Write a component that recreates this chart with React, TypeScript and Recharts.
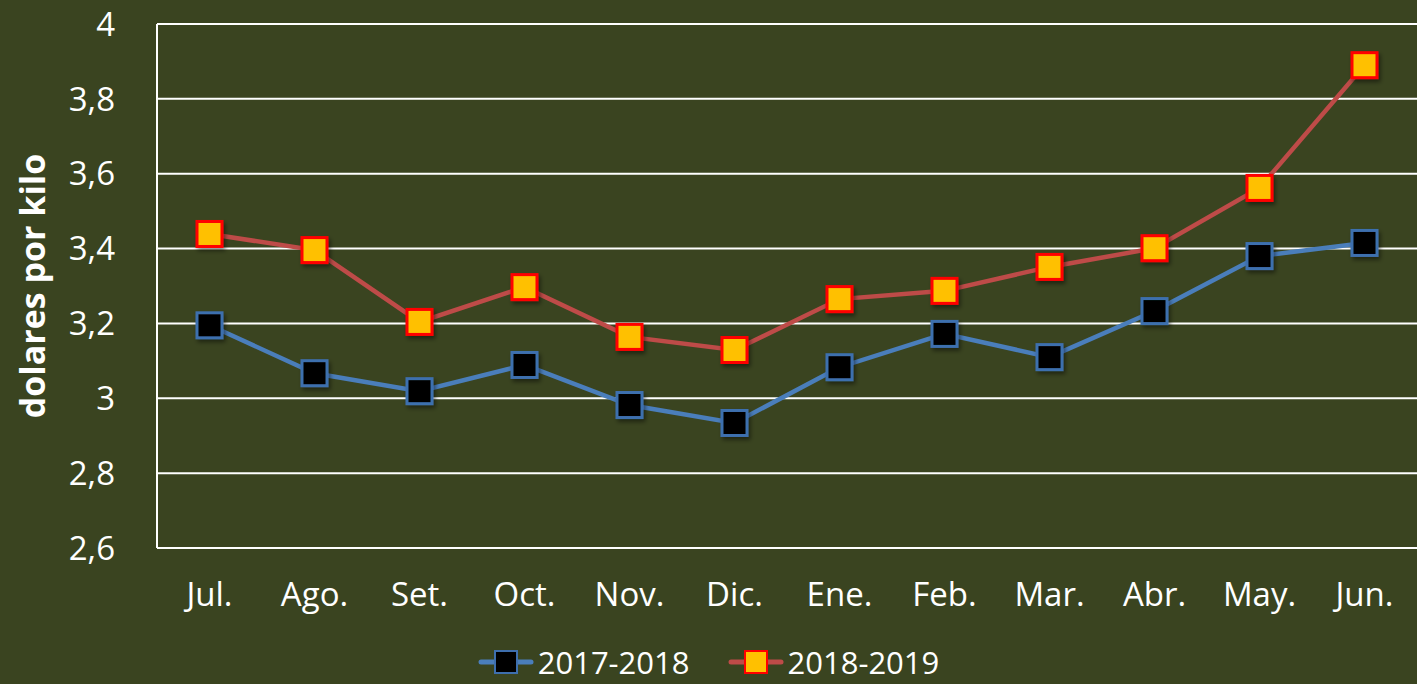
import React from "react";
import {
  CartesianGrid,
  Label,
  Legend,
  Line,
  LineChart,
  XAxis,
  YAxis,
} from "recharts";

const months = ["Jul.", "Ago.", "Set.", "Oct.", "Nov.", "Dic.", "Ene.", "Feb.", "Mar.", "Abr.", "May.", "Jun."];
const season1718 = [3.195, 3.067, 3.019, 3.089, 2.982, 2.934, 3.083, 3.172, 3.11, 3.233, 3.38, 3.415];
const season1819 = [3.439, 3.396, 3.204, 3.297, 3.164, 3.129, 3.265, 3.287, 3.351, 3.401, 3.562, 3.89];
const yTicks = [2.6, 2.8, 3, 3.2, 3.4, 3.6, 3.8, 4];

const data = months.map((m, i) => ({
  month: m,
  s1: season1718[i],
  s2: season1819[i],
}));

const BG = "#3A4420";
const FONT = "'Open Sans', sans-serif";

const series = [
  { key: "s1", name: "2017-2018", line: "#4A7EBB", fill: "#000000", border: "#3E6FAE" },
  { key: "s2", name: "2018-2019", line: "#BE4B48", fill: "#FFC000", border: "#FF0000" },
];

const squareDot = (fill: string, border: string) => (p: any) => (
  <rect
    key={`dot-${p.index}`}
    x={p.cx - 12.5}
    y={p.cy - 12.5}
    width={25}
    height={25}
    fill={fill}
    stroke={border}
    strokeWidth={3}
    filter="url(#markerShadow)"
  />
);

const renderLegend = () => (
  <div
    style={{
      display: "flex",
      justifyContent: "center",
      alignItems: "center",
      height: 44,
      color: "#fff",
      fontFamily: FONT,
      fontSize: 31,
    }}
  >
    {series.map((s, i) => (
      <div key={s.key} style={{ display: "flex", alignItems: "center", marginLeft: i ? 38 : 0 }}>
        <svg width={56} height={30}>
          <line x1={3} x2={53} y1={15} y2={15} stroke={s.line} strokeWidth={5} strokeLinecap="round" />
          <rect x={17} y={4} width={22} height={22} fill={s.fill} stroke={s.border} strokeWidth={2} />
        </svg>
        <span style={{ marginLeft: 4, lineHeight: "44px" }}>{s.name}</span>
      </div>
    ))}
  </div>
);

export default function App() {
  return (
    <div style={{ width: 1417, height: 684, background: BG }}>
      <style>{"body{margin:0}"}</style>
      <LineChart
        width={1417}
        height={684}
        data={data}
        margin={{ top: 24, right: 0, left: 0, bottom: 32 }}
        style={{ background: BG }}
      >
        <defs>
          <filter id="markerShadow" x="-30%" y="-30%" width="170%" height="170%">
            <feDropShadow dx={2} dy={3} stdDeviation={2} floodColor="#000" floodOpacity={0.45} />
          </filter>
        </defs>
        <CartesianGrid vertical={false} stroke="#FFFFFF" strokeWidth={2} />
        <XAxis
          dataKey="month"
          height={60}
          padding={{ left: 52.5, right: 52.5 }}
          axisLine={{ stroke: "#FFFFFF", strokeWidth: 2 }}
          tickLine={false}
          tickSize={0}
          tickMargin={35}
          tick={{ fill: "#FFFFFF", fontSize: 33, fontFamily: FONT }}
        />
        <YAxis
          width={157}
          domain={[2.6, 4]}
          ticks={yTicks}
          allowDataOverflow
          axisLine={{ stroke: "#FFFFFF", strokeWidth: 2 }}
          tickLine={false}
          tickSize={0}
          tickMargin={42}
          tick={{ fill: "#FFFFFF", fontSize: 33, fontFamily: FONT }}
          tickFormatter={(v: number) => String(Math.round(v * 10) / 10).replace(".", ",")}
        >
          <Label
            content={(p: any) => {
              const vb = p.viewBox || { y: 24, height: 524 };
              const cy = vb.y + vb.height / 2;
              return (
                <text
                  x={32}
                  y={cy}
                  transform={`rotate(-90 32 ${cy})`}
                  textAnchor="middle"
                  dominantBaseline="central"
                  fill="#FFFFFF"
                  fontFamily={FONT}
                  fontWeight="bold"
                  fontSize={34}
                >
                  dolares por kilo
                </text>
              );
            }}
          />
        </YAxis>
        <Legend
          verticalAlign="bottom"
          content={renderLegend}
          wrapperStyle={{ top: 640, bottom: "auto", left: 0, width: 1417, height: 44 }}
        />
        {series.map((s) => (
          <Line
            key={s.key}
            type="linear"
            dataKey={s.key}
            name={s.name}
            stroke={s.line}
            strokeWidth={4.5}
            dot={squareDot(s.fill, s.border)}
            activeDot={false}
            isAnimationActive={false}
          />
        ))}
      </LineChart>
    </div>
  );
}
